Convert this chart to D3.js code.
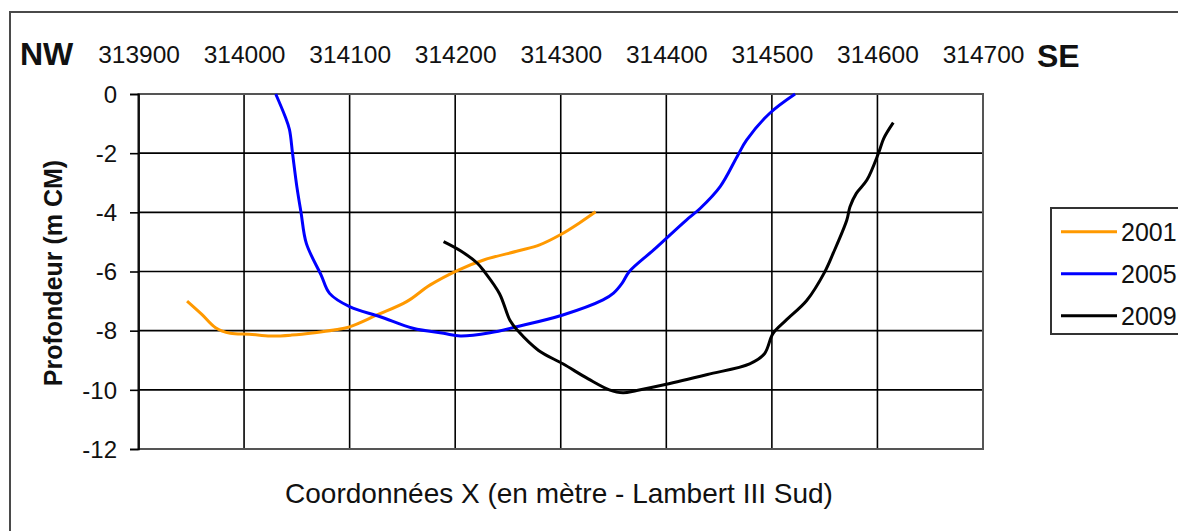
<!DOCTYPE html>
<html>
<head>
<meta charset="utf-8">
<script src="https://cdn.jsdelivr.net/npm/d3@7"></script>
<style>
  html, body { margin: 0; padding: 0; background: #fff; }
  svg { display: block; }
  text { font-family: "Liberation Sans", Arial, sans-serif; fill: #111; }
</style>
</head>
<body>
<svg id="chart" width="1178" height="531"></svg>
<script>
// Profile positions (Lambert III Sud X, metres) and depths (m CM) per survey year
const x2001 = [313946, 313960, 313973, 313987, 314005, 314025, 314045, 314067, 314085, 314100,
               314126, 314154, 314176, 314203, 314227, 314260, 314280, 314300, 314318, 314333];
const depth2001 = [-7.0, -7.45, -7.9, -8.09, -8.12, -8.18, -8.15, -8.07, -7.98, -7.87,
                   -7.47, -7.02, -6.46, -5.95, -5.61, -5.3, -5.1, -4.75, -4.35, -3.98];

const x2005 = [314030, 314039, 314043, 314046, 314050, 314054, 314059, 314073, 314081, 314100,
               314129, 314160, 314189, 314205, 314233, 314258, 314302, 314340, 314350, 314358,
               314365, 314388, 314419, 314432, 314451, 314467, 314476, 314498, 314522];
const depth2005 = [0, -0.77, -1.2, -2.03, -3.13, -4.01, -5.05, -6.12, -6.74, -7.19,
                   -7.53, -7.92, -8.09, -8.18, -8.07, -7.87, -7.47, -6.96, -6.73, -6.4,
                   -6.0, -5.27, -4.26, -3.87, -3.13, -2.12, -1.56, -0.65, 0];

const x2009 = [314189, 314205, 314221, 314228, 314242, 314252, 314259, 314279, 314302, 314326,
               314346, 314359, 314372, 314399, 314439, 314479, 314493, 314501, 314513, 314533,
               314550, 314558, 314571, 314574, 314580, 314590, 314601, 314606, 314615];
const depth2009 = [-4.99, -5.3, -5.72, -6.02, -6.75, -7.66, -7.99, -8.67, -9.12, -9.63,
                   -10.0, -10.1, -10.02, -9.82, -9.48, -9.12, -8.78, -8.1, -7.66, -6.98,
                   -6.02, -5.39, -4.26, -3.81, -3.36, -2.91, -2.0, -1.5, -0.97];

const years = ["2001", "2005", "2009"];
const colors = ["#FF9900", "#0000FF", "#000000"];

const xTicks = [313900, 314000, 314100, 314200, 314300, 314400, 314500, 314600, 314700];
const yTicks = [0, -2, -4, -6, -8, -10, -12];

const series = [
  { name: years[0], color: colors[0], pts: x2001.map((v, i) => [v, depth2001[i]]) },
  { name: years[1], color: colors[1], pts: x2005.map((v, i) => [v, depth2005[i]]) },
  { name: years[2], color: colors[2], pts: x2009.map((v, i) => [v, depth2009[i]]) }
];

const svg = d3.select("#chart");

// Outer chart frame (runs past the right and bottom edges)
svg.append("rect")
  .attr("x", 10).attr("y", 12)
  .attr("width", 1200).attr("height", 560)
  .attr("fill", "#fff").attr("stroke", "#4a4a4a").attr("stroke-width", 2);

const plot = { left: 138.5, right: 983, top: 94, bottom: 449 };

const x = d3.scaleLinear().domain([313900, 314700]).range([plot.left, plot.right]);
const y = d3.scaleLinear().domain([-12, 0]).range([plot.bottom, plot.top]);

// Grid
const grid = svg.append("g");
grid.selectAll("line.v").data(xTicks).join("line")
  .attr("x1", d => x(d)).attr("x2", d => x(d))
  .attr("y1", plot.top).attr("y2", plot.bottom)
  .attr("stroke", "#000").attr("stroke-width", 1.6);
grid.selectAll("line.h").data(yTicks).join("line")
  .attr("x1", plot.left).attr("x2", plot.right)
  .attr("y1", d => y(d)).attr("y2", d => y(d))
  .attr("stroke", "#000").attr("stroke-width", 1.6);

// Plot frame
svg.append("rect")
  .attr("x", plot.left).attr("y", plot.top)
  .attr("width", plot.right - plot.left).attr("height", plot.bottom - plot.top)
  .attr("fill", "none").attr("stroke", "#555").attr("stroke-width", 2);

// Left axis (plain hyphen for negative values)
const yAxis = svg.append("g")
  .attr("transform", `translate(${plot.left},0)`)
  .call(d3.axisLeft(y).tickValues(yTicks).tickSize(8.5).tickPadding(13).tickFormat(d => String(d)));
yAxis.select(".domain").attr("stroke", "#000").attr("stroke-width", 1.6);
yAxis.selectAll(".tick line").attr("stroke", "#000").attr("stroke-width", 1.6);
yAxis.selectAll("text")
  .style("font-family", '"Liberation Sans", Arial, sans-serif')
  .style("font-size", "24px").attr("fill", "#111").attr("dy", "0.34em");

// Top axis with coordinate labels
const xAxis = svg.append("g")
  .attr("transform", "translate(0,63)")
  .call(d3.axisTop(x).tickValues(xTicks).tickSize(0).tickPadding(0).tickFormat(d => String(d)));
xAxis.select(".domain").remove();
xAxis.selectAll("text")
  .style("font-family", '"Liberation Sans", Arial, sans-serif')
  .style("font-size", "24.5px").attr("fill", "#111");

// Orientation markers
svg.append("text").attr("x", 20).attr("y", 65)
  .style("font-size", "32px").style("font-weight", "bold").text("NW");
svg.append("text").attr("x", 1037).attr("y", 67)
  .style("font-size", "32px").style("font-weight", "bold").text("SE");

// Axis titles
svg.append("text")
  .attr("transform", "translate(62,273) rotate(-90)")
  .attr("text-anchor", "middle")
  .style("font-size", "25px").style("font-weight", "bold")
  .text("Profondeur (m CM)");
svg.append("text")
  .attr("x", 559).attr("y", 503)
  .attr("text-anchor", "middle")
  .style("font-size", "28px")
  .text("Coordonnées X (en mètre - Lambert III Sud)");

// Profiles
const line = d3.line()
  .x(d => x(d[0])).y(d => y(d[1]))
  .curve(d3.curveCatmullRom.alpha(0.5));
svg.append("g").selectAll("path").data(series).join("path")
  .attr("d", d => line(d.pts))
  .attr("fill", "none")
  .attr("stroke", d => d.color)
  .attr("stroke-width", 3)
  .attr("stroke-linejoin", "round");

// Legend
const legend = svg.append("g");
legend.append("rect")
  .attr("x", 1051).attr("y", 208).attr("width", 200).attr("height", 126)
  .attr("fill", "#fff").attr("stroke", "#333").attr("stroke-width", 2);
const items = legend.selectAll("g.item").data(series).join("g")
  .attr("transform", (d, i) => `translate(0,${231.7 + i * 42})`);
items.append("line")
  .attr("x1", 1061).attr("x2", 1117).attr("y1", 0).attr("y2", 0)
  .attr("stroke", d => d.color).attr("stroke-width", 3);
items.append("text")
  .attr("x", 1121).attr("y", 0).attr("dy", "0.36em")
  .style("font-size", "25px")
  .text(d => d.name);
</script>
</body>
</html>
